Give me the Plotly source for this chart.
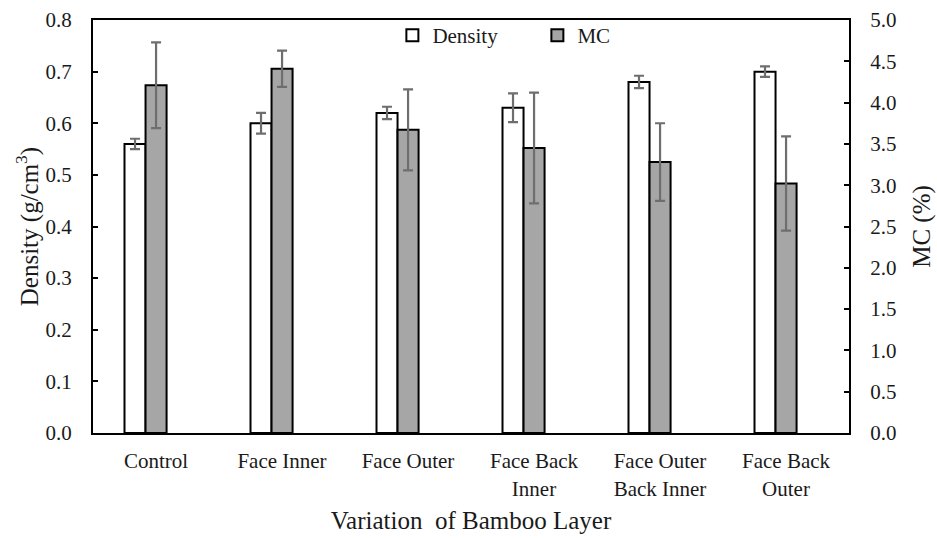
import plotly.graph_objects as go

categories = ["Control", "Face Inner", "Face Outer", "Face Back<br>Inner",
              "Face Outer<br>Back Inner", "Face Back<br>Outer"]
density = [0.56, 0.60, 0.62, 0.63, 0.68, 0.70]
density_err = [0.010, 0.020, 0.012, 0.028, 0.012, 0.010]
mc = [4.21, 4.41, 3.67, 3.45, 3.28, 3.02]
mc_err = [0.52, 0.22, 0.49, 0.67, 0.47, 0.57]

xpos = list(range(len(categories)))
FONT = "Liberation Serif"

fig = go.Figure()
fig.add_trace(go.Bar(
    x=xpos, y=density, name="Density", yaxis="y",
    width=0.167, offset=-0.25,
    marker=dict(color="white", line=dict(color="black", width=2)),
    error_y=dict(type="data", array=density_err, color="#6e6e6e", thickness=2.2, width=5),
))
fig.add_trace(go.Bar(
    x=xpos, y=mc, name="MC", yaxis="y2",
    width=0.167, offset=-0.083,
    marker=dict(color="#a6a6a6", line=dict(color="black", width=2)),
    error_y=dict(type="data", array=mc_err, color="#6e6e6e", thickness=2.2, width=5),
))

fig.update_layout(
    width=937, height=538,
    margin=dict(l=93, r=88, t=20, b=105, autoexpand=False),
    paper_bgcolor="white", plot_bgcolor="white",
    barmode="overlay",
    font=dict(family=FONT, size=21, color="#1a1a1a"),
    showlegend=True,
    legend=dict(orientation="h", x=0.396, y=1.012, xanchor="left", yanchor="top",
                bgcolor="rgba(0,0,0,0)",
                entrywidth=100, entrywidthmode="pixels", itemwidth=30),
    xaxis=dict(
        range=[-0.5, 5.5], tickmode="array", tickvals=xpos, ticktext=categories,
        showline=True, linecolor="black", linewidth=2, mirror=True,
        ticks="", showgrid=False, zeroline=False, ticklabelstandoff=8,
        automargin=False,
        title=dict(text="Variation  of Bamboo Layer", standoff=12),
    ),
    yaxis=dict(
        range=[0, 0.8], dtick=0.1, tickformat=".1f",
        showline=True, linecolor="black", linewidth=2,
        ticks="inside", ticklen=5, tickwidth=1.5, tickcolor="black",
        showgrid=False, zeroline=False, ticklabelstandoff=15, automargin=False,
        title=dict(text="Density (g/cm<sup>3</sup>)", standoff=0),
    ),
    yaxis2=dict(
        range=[0, 5.0], dtick=0.5, tickformat=".1f", overlaying="y", side="right",
        showline=True, linecolor="black", linewidth=2,
        ticks="inside", ticklen=5, tickwidth=1.5, tickcolor="black",
        showgrid=False, zeroline=False, ticklabelstandoff=15, automargin=False,
        title=dict(text="MC (%)", standoff=17),
    ),
)

fig.write_html("out.html", config={"displayModeBar": False},
               post_script="document.body.style.margin='0';document.body.style.overflow='hidden';")
